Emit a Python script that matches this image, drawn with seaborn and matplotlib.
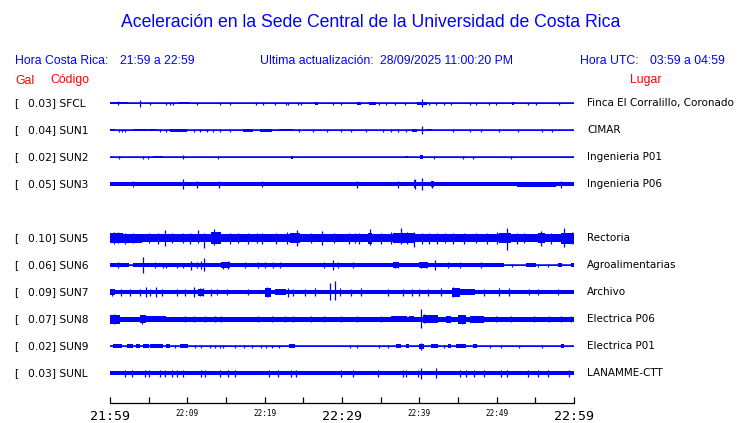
import numpy as np
import pandas as pd
import matplotlib
matplotlib.use("Agg")
import matplotlib.pyplot as plt
import seaborn as sns

# ---------------- data ----------------
stations = ['SFCL', 'SUN1', 'SUN2', 'SUN3', 'SUN5', 'SUN6', 'SUN7', 'SUN8', 'SUN9', 'SUNL']
peak_gal = [0.03, 0.04, 0.02, 0.05, 0.10, 0.06, 0.09, 0.07, 0.02, 0.03]
places = ['Finca El Corralillo, Coronado', 'CIMAR', 'Ingenieria P01', 'Ingenieria P06',
          'Rectoria', 'Agroalimentarias', 'Archivo', 'Electrica P06', 'Electrica P01', 'LANAMME-CTT']

# background noise half-amplitude of each trace (display units)
noise = [0.6, 0.6, 0.6, 2.2, 4.0, 0.6, 2.2, 2.3, 0.6, 2.2]

# bursts: (start minute, end minute, half amplitude)
bursts = {
    'SFCL': [(0, 2.3, 1.2), (8.8, 10.4, 1.2), (26.5, 26.9, 1.6), (32.0, 32.5, 1.4), (33.5, 34.4, 1.5),
             (39.7, 41.0, 1.4), (52.0, 52.2, 1.3)],
    'SUN1': [(0, 0.6, 1.2), (3.0, 4.8, 1.2), (4.9, 6.1, 1.2), (7.7, 9.9, 1.5), (17.2, 18.5, 1.5), (19.4, 21.0, 1.5),
             (21.9, 23.6, 1.2), (39.1, 39.7, 1.5), (40.9, 41.7, 1.2)],
    'SUN2': [(5.6, 6.9, 0.9), (23.4, 23.7, 1.5), (38.1, 38.5, 1.1), (40.1, 40.5, 2.2)],
    'SUN3': [(39.3, 39.6, 4), (41.5, 41.9, 3), (52.6, 57.7, 2.6)],
    'SUN5': [(0, 1.7, 5), (1.7, 4.1, 4.6), (13.0, 14.3, 5.8), (23.3, 24.6, 5), (33.3, 33.9, 5.5),
             (36.6, 39.4, 5), (50.3, 51.8, 5), (55.3, 56.2, 5), (58.3, 60, 5.3)],
    'SUN6': [(0, 2.4, 2.0), (3.0, 51.0, 2.0), (53.8, 55.1, 2.0), (57.9, 58.5, 2.0), (59.6, 60, 2.0),
             (14.4, 15.5, 2.8), (36.6, 37.4, 2.8), (40.0, 41.1, 2.8)],
    'SUN7': [(20.0, 20.8, 4.5), (21.3, 22.8, 3.2), (44.2, 45.2, 4.5), (45.2, 47.2, 3.2), (0, 0.6, 3), (11.4, 12.2, 3.5)],
    'SUN8': [(0, 1.3, 4.5), (3.9, 4.7, 4), (4.7, 7.3, 3), (36.3, 38.4, 3), (38.7, 39.3, 3),
             (40.5, 42.4, 4), (43.5, 44.1, 3.5), (45.0, 46.0, 4.5), (46.6, 48.3, 3.5)],
    'SUN9': [(0.4, 1.5, 1.8), (2.15, 3.0, 1.8), (3.4, 3.9, 1.8), (4.3, 5.0, 1.8), (5.2, 6.9, 1.8), (7.3, 7.7, 1.8),
             (9.0, 10.1, 1.8), (23.2, 23.9, 1.8), (37.0, 37.6, 1.8), (38.3, 38.7, 1.8), (40.0, 40.6, 2.6),
             (41.5, 42.4, 1.8), (43.7, 44.1, 1.8), (44.7, 46.0, 1.8), (46.9, 47.5, 1.8), (58.3, 58.7, 1.8)],
    'SUNL': [],
}

# spikes: (minute, amplitude up, amplitude down)
spikes = {
    'SFCL': [(1.0, 2, 2), (3.9, 3.5, 3.5), (5.2, 1.5, 1.5), (7.3, 1.5, 1.5), (7.7, 1.5, 1.5), (8.2, 1.5, 1.5),
             (11.2, 1.5, 1.5), (14.2, 1.5, 1.5), (15.5, 1.5, 1.5), (18.9, 1.5, 1.5), (19.8, 1.5, 1.5),
             (21.3, 1.5, 1.5), (22.8, 1.5, 1.5), (24.3, 1.5, 1.5), (23.0, 1.5, 1.5), (24.7, 1.5, 1.5),
             (28.8, 1.5, 1.5), (29.9, 1.5, 1.5), (34.8, 1.5, 1.5), (35.7, 1.5, 1.5), (36.8, 1.5, 1.5),
             (38.1, 1.5, 1.5), (40.3, 4, 4), (41.3, 1.5, 1.5), (42.2, 1.5, 1.5), (43.2, 1.5, 1.5),
             (44.1, 1.5, 1.5), (46.5, 1.5, 1.5), (47.3, 1.5, 1.5), (49.0, 1.5, 1.5), (49.9, 1.5, 1.5),
             (54.0, 1.5, 1.5), (55.1, 1.5, 1.5), (58.1, 1.5, 1.5)],
    'SUN1': [(1.1, 1.5, 1.5), (1.5, 1.5, 1.5), (1.9, 1.5, 1.5), (6.5, 1.5, 1.5), (7.3, 1.5, 1.5), (10.8, 1.5, 1.5),
             (11.6, 1.5, 1.5), (12.5, 1.5, 1.5), (13.3, 1.5, 1.5), (14.2, 1.5, 1.5), (15.5, 1.5, 1.5),
             (24.5, 1.5, 1.5), (26.2, 1.5, 1.5), (28.0, 1.5, 1.5), (29.9, 1.5, 1.5), (31.2, 1.5, 1.5),
             (33.1, 1.5, 1.5), (35.3, 1.5, 1.5), (36.3, 1.5, 1.5), (37.2, 1.5, 1.5), (38.3, 1.5, 1.5),
             (40.3, 4, 4), (44.3, 1.5, 1.5), (46.5, 1.5, 1.5), (48.0, 1.5, 1.5), (50.3, 1.5, 1.5),
             (52.7, 1.5, 1.5), (55.9, 1.5, 1.5), (57.2, 1.5, 1.5)],
    'SUN2': [(1.1, 1.5, 1.5), (4.3, 1.5, 1.5), (4.9, 1.5, 1.5), (9.4, 2, 2), (14.0, 1.5, 1.5), (41.9, 1.5, 1.5),
             (45.7, 1.5, 1.5), (47.0, 1.5, 1.5), (51.9, 1.5, 1.5)],
    'SUN3': [(3.0, 3, 3), (9.4, 5, 5), (11.2, 3.5, 3.5), (14.1, 3.5, 3.5), (19.7, 3, 3), (32.0, 3.5, 3.5),
             (37.3, 3.5, 3.5), (39.4, 5, 5), (40.3, 6, 6), (41.7, 3.5, 3.5), (58.3, 3.5, 3.5)],
    'SUN5': [(0.5, 6, 6), (1.0, 6, 5), (2.0, 5, 6), (3.0, 5, 5), (5.0, 5, 5), (6.2, 5, 5.5), (7.1, 8, 8),
             (8.0, 5.5, 5), (9.5, 5.5, 5), (10.3, 5, 5.5), (11.4, 8, 5), (12.1, 5, 10), (13.5, 9, 7),
             (15.5, 5, 5.5), (16.6, 5.5, 5), (17.9, 5.5, 5.5), (19.0, 5.5, 5), (19.7, 5, 5.5), (21.5, 5, 5.5),
             (22.9, 6, 5.5), (24.2, 8, 8), (26.0, 5.5, 5), (27.4, 7, 7), (29.0, 5.5, 5), (30.9, 5.5, 5.5),
             (31.7, 5.5, 5), (32.2, 5, 5.5), (33.6, 9, 7), (35.0, 5, 5.5), (36.4, 6, 6), (37.6, 10, 6),
             (38.4, 6, 6), (39.3, 6, 9), (40.4, 5.5, 5.5), (41.3, 5, 5.5), (42.3, 5.5, 5.5), (43.3, 5, 5),
             (44.3, 5.5, 5.5), (45.8, 5, 5.5), (47.3, 5.5, 5), (48.7, 5, 5.5), (50.0, 6, 6), (51.4, 10, 12),
             (52.6, 5, 5.5), (53.5, 5.5, 5), (55.7, 7, 8), (57.0, 5, 5.5), (58.7, 10, 9), (59.8, 6, 5.5)],
    'SUN6': [(1.08, 3, 3), (4.3, 8, 8), (5.8, 3, 3), (6.9, 2.5, 2.5), (7.3, 2.5, 2.5), (8.6, 2.5, 2.5),
             (9.5, 2.5, 2.5), (10.5, 4.5, 4.5), (11.2, 3, 3), (11.8, 4, 4), (12.2, 7, 6), (14.6, 3.5, 3.5),
             (15.3, 4, 4), (17.4, 3, 3), (19.1, 3, 3), (20.0, 3, 3), (21.1, 3, 3), (22.0, 3, 3), (27.7, 3, 3),
             (28.8, 5, 5), (29.5, 3, 3), (31.4, 3, 3), (36.8, 3, 3), (37.2, 3, 3), (40.2, 3, 3), (40.9, 3, 3),
             (42.0, 5, 5), (43.7, 3, 3), (45.2, 3, 3), (48.0, 3, 3), (52.0, 1.5, 1.5), (55.3, 1.5, 1.5),
             (56.6, 1.5, 1.5)],
    'SUN7': [(0.2, 3.5, 3.5), (1.4, 3.5, 3.5), (2.6, 3.5, 3.5), (3.9, 3.5, 3.5), (4.7, 5, 5), (5.2, 3.5, 3.5),
             (6.0, 5, 5), (6.7, 3.5, 3.5), (8.6, 3.5, 3.5), (9.7, 3.5, 3.5), (10.8, 5, 5), (11.6, 4, 4),
             (12.0, 4, 4), (13.1, 3.5, 3.5), (13.8, 3, 3), (15.1, 3, 3), (17.9, 3, 3), (20.3, 5, 5),
             (23.0, 4.5, 4.5), (23.7, 3.5, 3.5), (25.2, 3.5, 3.5), (26.5, 4, 4), (28.4, 9, 8), (29.1, 11, 8),
             (29.7, 4, 4), (31.2, 3.5, 3.5), (32.5, 4, 4), (36.0, 3.5, 3.5), (37.9, 3.5, 3.5), (39.0, 3.5, 3.5),
             (40.0, 3.5, 3.5), (41.1, 3.5, 3.5), (42.8, 4, 4), (44.3, 5, 5), (48.4, 3.5, 3.5), (50.3, 4, 4),
             (51.6, 4, 4), (54.2, 3, 3), (55.3, 3, 3), (57.9, 3, 3)],
    'SUN8': [(0.5, 5, 5), (4.2, 4.5, 4.5), (9.7, 3, 3), (10.8, 3, 3), (12.3, 3, 3), (13.6, 3, 3),
             (14.4, 3, 3), (19.1, 3, 3), (20.9, 3, 3), (22.6, 3, 3), (23.7, 3, 3),
             (26.0, 3, 3), (27.7, 3, 3), (29.9, 3, 3), (32.0, 3, 3), (35.1, 3, 3),
             (40.2, 10, 9), (40.6, 5, 4), (45.5, 4.5, 4.5), (49.9, 3, 3), (51.8, 3, 3), (54.8, 3, 3),
             (56.8, 3, 3), (58.3, 3, 3), (59.6, 3, 3)],
    'SUN9': [(8.4, 1.5, 1.5), (11.0, 1.5, 1.5), (11.8, 1.5, 1.5), (12.9, 1.5, 1.5), (13.6, 1.5, 1.5),
             (14.2, 1.5, 1.5), (14.6, 1.5, 1.5), (16.1, 1.5, 1.5), (17.3, 1.5, 1.5), (18.3, 1.5, 1.5),
             (19.5, 1.5, 1.5), (20.2, 1.5, 1.5), (20.9, 1.5, 1.5), (21.8, 1.5, 1.5), (31.0, 1.5, 1.5),
             (32.0, 1.5, 1.5), (34.8, 1.5, 1.5), (35.9, 1.5, 1.5), (40.2, 3.5, 3.5), (43.2, 1.5, 1.5),
             (49.2, 1.5, 1.5), (50.5, 1.5, 1.5), (52.9, 1.5, 1.5), (55.9, 1.5, 1.5)],
    'SUNL': [(1.9, 3.5, 3.5), (2.8, 3.5, 3.5), (4.5, 3.5, 3.5), (5.0, 3.5, 3.5), (6.5, 3.5, 3.5), (7.1, 3.5, 3.5),
             (8.0, 3.5, 3.5), (8.6, 3.5, 3.5), (9.5, 3.5, 3.5), (11.8, 3.5, 3.5), (12.3, 3.5, 3.5),
             (14.2, 3.5, 3.5), (15.3, 3.5, 3.5), (16.1, 3.5, 3.5), (20.6, 3.5, 3.5), (21.7, 3.5, 3.5),
             (23.4, 3.5, 3.5), (24.1, 3.5, 3.5), (29.9, 3.5, 3.5), (31.4, 3.5, 3.5), (34.6, 3.5, 3.5),
             (37.9, 3.5, 3.5), (38.3, 3.5, 3.5), (39.8, 3.5, 3.5), (40.2, 5.5, 5.5), (42.2, 5, 5),
             (45.2, 3.5, 3.5), (46.0, 3.5, 3.5), (47.1, 3.5, 3.5), (48.4, 3.5, 3.5), (50.5, 3.5, 3.5),
             (51.4, 3.5, 3.5), (54.0, 3.5, 3.5), (55.3, 3.5, 3.5), (56.6, 3.5, 3.5), (59.4, 3.5, 3.5)],
}

tick_minutes = [0, 5, 10, 15, 20, 25, 30, 35, 40, 45, 50, 55, 60]
label_minutes = [0, 10, 20, 30, 40, 50, 60]
time_labels = ['21:59', '22:09', '22:19', '22:29', '22:39', '22:49', '22:59']
major_labels = ['21:59', '22:29', '22:59']

title = 'Aceleración en la Sede Central de la Universidad de Costa Rica'
hora_cr = '21:59 a 22:59'
ultima = '28/09/2025 11:00:20 PM'
hora_utc = '03:59 a 04:59'

# ---------------- figure ----------------
sns.set_theme(style='white')
plt.rcParams['font.family'] = ['DejaVu Sans']

W, H = 740, 423
fig = plt.figure(figsize=(W / 100, H / 100), dpi=100)
fig.patch.set_facecolor('white')

X0, X1 = 110, 574
ax = fig.add_axes([X0 / W, 0, (X1 - X0) / W, 1])

BLUE = '#0000ff'
RED = '#ff0000'

def row_center(i):
    row = i if i < 4 else i + 1
    return 103.3 + 27 * row

# baselines through seaborn
base_df = pd.DataFrame({
    'station': np.repeat(stations, 2),
    'minute': [0, 60] * len(stations),
    'y': np.repeat([row_center(i) for i in range(len(stations))], 2),
})
sns.lineplot(data=base_df, x='minute', y='y', units='station', estimator=None,
             color=BLUE, lw=1.1, ax=ax, legend=False)
ax.set_xlim(0, 60)
ax.set_ylim(H, 0)
ax.axis('off')

for i, st in enumerate(stations):
    c = row_center(i)
    hw = noise[i]
    ax.fill_between([0, 60], c - hw, c + hw, color=BLUE, lw=0)
    for (t0, t1, a) in bursts[st]:
        ax.fill_between([t0, t1], c - a, c + a, color=BLUE, lw=0)
    if spikes[st]:
        ts = [s[0] for s in spikes[st]]
        ups = [c - s[1] for s in spikes[st]]
        dns = [c + s[2] for s in spikes[st]]
        ax.vlines(ts, ups, dns, color=BLUE, lw=0.9)

# time axis
ax.plot([0, 60], [403.3, 403.3], color='black', lw=0.9, clip_on=False)
ax.vlines(tick_minutes, 397.5, 403.3, color='black', lw=0.9, clip_on=False)
for m, lab in zip(label_minutes, time_labels):
    if lab in major_labels:
        ax.text(m, 416, lab, ha='center', va='center', family='DejaVu Sans Mono',
                fontsize=9.5, color='black', clip_on=False)
    else:
        ax.text(m, 414, lab, ha='center', va='center', family='DejaVu Sans Mono',
                fontsize=5.5, color='black', clip_on=False)

def ftext(x, y, s, **kw):
    fig.text(x / W, 1 - y / H, s, **kw)

# title and header
ftext(371, 22.5, title, ha='center', va='center', family='Liberation Sans', fontsize=12.7, color=BLUE)
hk = dict(va='center', family='Liberation Sans', fontsize=8.8, color=BLUE)
ftext(15, 60.5, 'Hora Costa Rica:', **hk)
ftext(120, 60.5, hora_cr, **hk)
ftext(260, 60.5, 'Ultima actualización:', **hk)
ftext(380, 60.5, ultima, **hk)
ftext(580, 60.5, 'Hora UTC:', **hk)
ftext(650, 60.5, hora_utc, **hk)
rk = dict(va='center', family='Liberation Sans', fontsize=8.8, color=RED)
ftext(15, 80.5, 'Gal', **rk)
ftext(50, 80.5, 'Código', **rk)
ftext(630, 80.5, 'Lugar', **rk)

# station labels
for i, st in enumerate(stations):
    c = row_center(i)
    ftext(14.5, c, '[', va='center', family='DejaVu Sans', fontsize=7.7, color='black')
    ftext(27.5, c, f'{peak_gal[i]:.2f}] {st}', va='center', family='DejaVu Sans', fontsize=7.7, color='black')
    ftext(587, c, places[i], va='center', family='DejaVu Sans', fontsize=7.5, color='black')

fig.savefig('out.png', dpi=100, facecolor='white')
